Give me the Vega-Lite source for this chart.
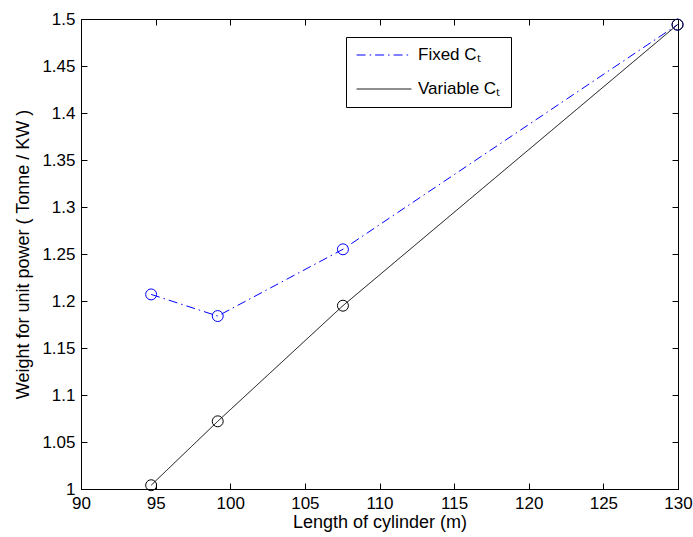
{
  "$schema": "https://vega.github.io/schema/vega-lite/v6.json",
  "width": 597,
  "height": 470,
  "autosize": "none",
  "padding": {"left": 81, "top": 19, "right": 15, "bottom": 48},
  "background": "white",
  "config": {
    "font": "Liberation Sans",
    "view": {"stroke": "black", "strokeWidth": 1},
    "axis": {
      "grid": false,
      "domainColor": "black",
      "tickColor": "black",
      "labelColor": "black",
      "titleColor": "black",
      "labelFont": "Liberation Sans",
      "titleFont": "Liberation Sans",
      "labelFontSize": 17,
      "titleFontSize": 18,
      "titleFontWeight": "normal",
      "tickSize": -6,
      "domainWidth": 1
    }
  },
  "data": {
    "values": [
      {"length": 94.7, "weight": 1.207, "series": "Fixed Cₜ"},
      {"length": 99.16, "weight": 1.184, "series": "Fixed Cₜ"},
      {"length": 107.55, "weight": 1.255, "series": "Fixed Cₜ"},
      {"length": 129.97, "weight": 1.494, "series": "Fixed Cₜ"},
      {"length": 94.7, "weight": 1.004, "series": "Variable Cₜ"},
      {"length": 99.16, "weight": 1.072, "series": "Variable Cₜ"},
      {"length": 107.55, "weight": 1.195, "series": "Variable Cₜ"},
      {"length": 129.97, "weight": 1.494, "series": "Variable Cₜ"}
    ]
  },
  "resolve": {"axis": {"x": "independent", "y": "independent"}},
  "layer": [
    {
      "mark": {"type": "line", "strokeWidth": 1, "clip": true},
      "encoding": {
        "x": {
          "field": "length", "type": "quantitative",
          "scale": {"domain": [90, 130], "nice": false, "zero": false},
          "axis": {"orient": "bottom", "values": [90, 95, 100, 105, 110, 115, 120, 125, 130], "labelPadding": 12, "title": "Length of cylinder (m)", "titlePadding": 2, "labelFlush": false}
        },
        "y": {
          "field": "weight", "type": "quantitative",
          "scale": {"domain": [1, 1.5], "nice": false, "zero": false},
          "axis": {"orient": "left", "values": [1, 1.05, 1.1, 1.15, 1.2, 1.25, 1.3, 1.35, 1.4, 1.45, 1.5], "format": "~g", "labelPadding": 12, "title": "Weight for unit power ( Tonne / KW )", "titlePadding": 9, "labelFlush": false}
        },
        "color": {
          "field": "series", "type": "nominal",
          "scale": {"domain": ["Fixed Cₜ", "Variable Cₜ"], "range": ["#0000ff", "#000000"]},
          "legend": {
            "title": null,
            "orient": "none",
            "legendX": 265,
            "legendY": 18,
            "strokeColor": "black",
            "fillColor": "white",
            "padding": 10,
            "symbolType": "stroke",
            "symbolSize": 3000,
            "symbolStrokeWidth": 1,
            "clipHeight": 16,
            "labelFontSize": 17,
            "labelColor": "black",
            "rowPadding": 17,
            "labelOffset": 6
          }
        },
        "strokeDash": {
          "field": "series", "type": "nominal",
          "scale": {"domain": ["Fixed Cₜ", "Variable Cₜ"], "range": [[9, 4, 1.5, 4], [1, 0]]},
          "legend": null
        }
      }
    },
    {
      "mark": {"type": "point", "shape": "circle", "filled": false, "size": 120, "strokeWidth": 1, "opacity": 1},
      "encoding": {
        "x": {
          "field": "length", "type": "quantitative",
          "scale": {"domain": [90, 130], "nice": false, "zero": false},
          "axis": {"orient": "top", "values": [90, 95, 100, 105, 110, 115, 120, 125, 130], "labels": false, "title": null}
        },
        "y": {
          "field": "weight", "type": "quantitative",
          "scale": {"domain": [1, 1.5], "nice": false, "zero": false},
          "axis": {"orient": "right", "values": [1, 1.05, 1.1, 1.15, 1.2, 1.25, 1.3, 1.35, 1.4, 1.45, 1.5], "labels": false, "title": null}
        },
        "color": {
          "field": "series", "type": "nominal",
          "scale": {"domain": ["Fixed Cₜ", "Variable Cₜ"], "range": ["#0000ff", "#000000"]},
          "legend": null
        }
      }
    }
  ]
}
